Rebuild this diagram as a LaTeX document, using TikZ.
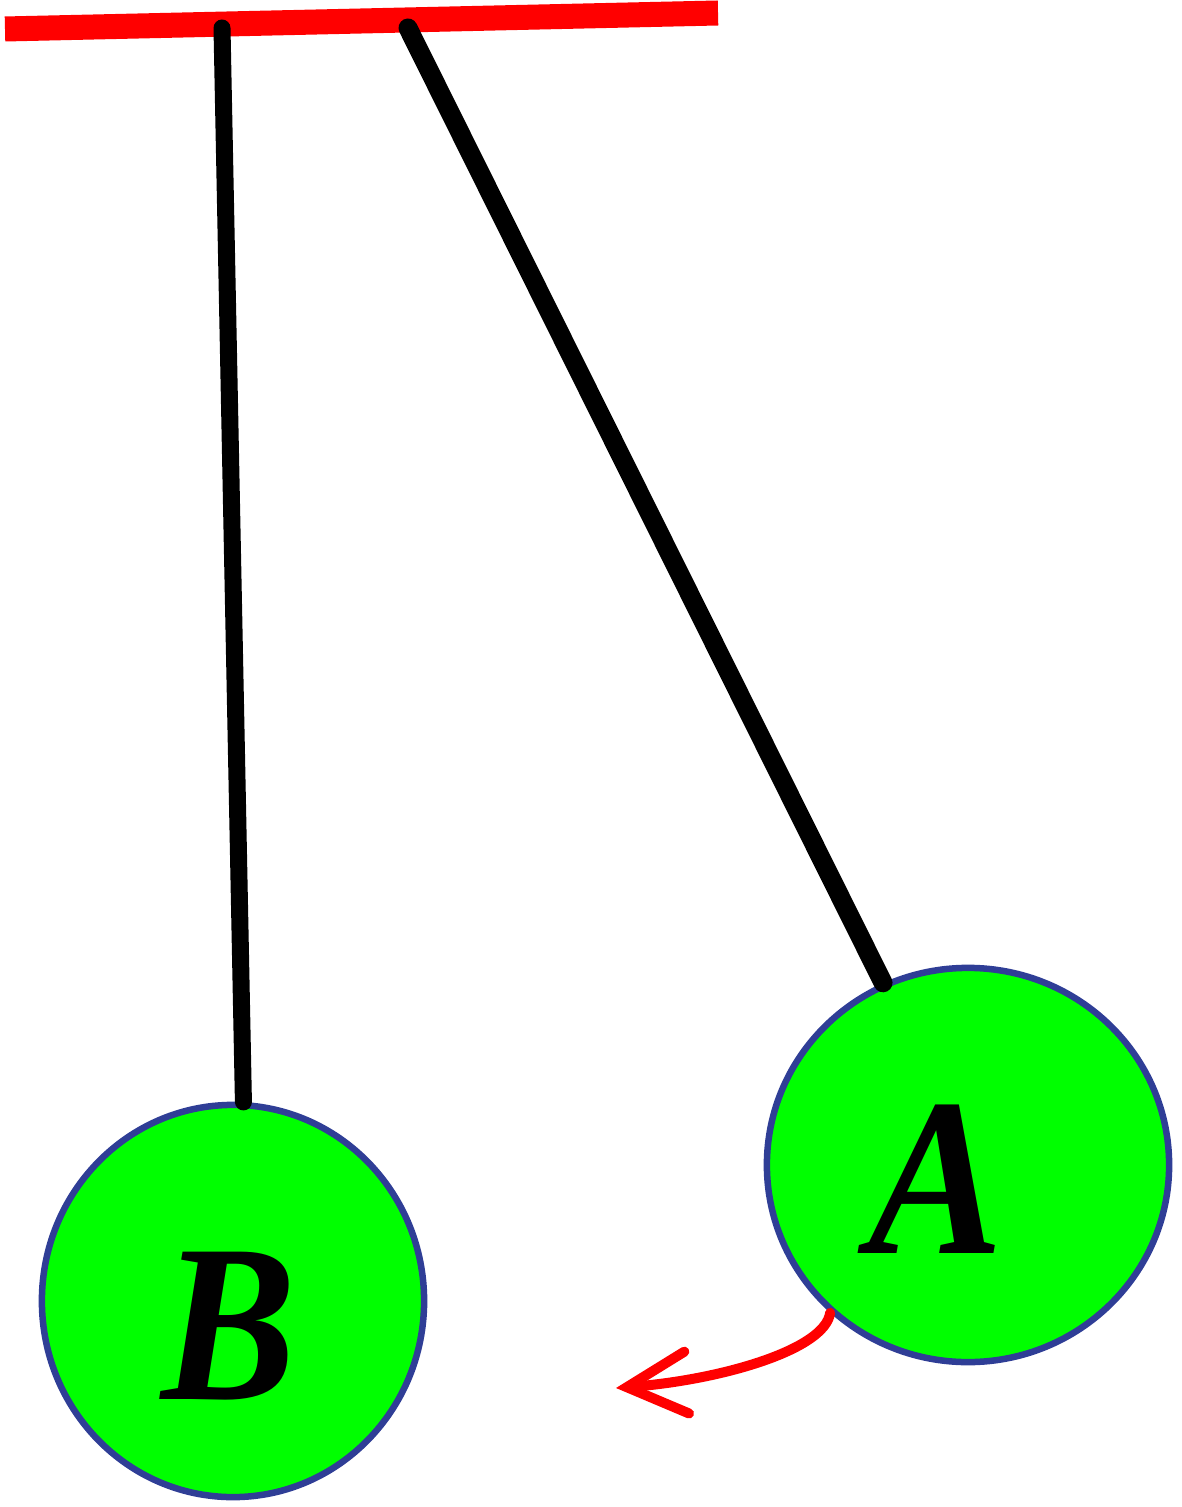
\documentclass[tikz,border=0pt]{standalone}
\usepackage{fontspec}
\setmainfont{Liberation Serif}
\usetikzlibrary{arrows.meta,shapes.geometric}
\definecolor{ballgreen}{HTML}{00FF00}
\definecolor{balledge}{HTML}{2F3E96}
\definecolor{barred}{HTML}{FF0000}
\tikzset{
  ball/.style={ellipse, draw=balledge, line width=0.065cm, fill=ballgreen, inner sep=0pt},
  string/.style={line width=#1, line cap=round, draw=black},
  balllabel/.style={font=\fontsize{64}{70}\selectfont\bfseries\itshape, inner sep=0pt},
  swing/.style={draw=barred, line width=0.1cm, line cap=round, line join=round,
    -{Straight Barb[length=0.6cm, width=0.62cm, line cap=round]}}
}
\begin{document}
\begin{tikzpicture}[x=0.01cm, y=-0.01cm]
\useasboundingbox (0,0) rectangle (1181,1507);
% support bar
\coordinate (barL) at (5,29);
\coordinate (barR) at (718,13);
\draw[barred, line width=0.25cm] (barL) -- (barR);
% suspension points
\coordinate (pB) at (222,28);
\coordinate (pA) at (408,28);
% balls
\node[ball, minimum width=3.82cm, minimum height=3.92cm] (B) at (233,1301) {};
\node[ball, minimum width=4.02cm, minimum height=3.94cm] (A) at (968,1165) {};
% strings
\draw[string=0.17cm] (pB) -- (B.87);
\draw[string=0.19cm] (pA) -- (A.115);
% labels
\node[balllabel, xscale=0.9, transform shape] (labB) at (229,1326) {B};
\node[balllabel, xscale=0.9, transform shape] (labA) at (936,1179) {A};
% arrow
\coordinate (tip) at (616,1388);
\draw[swing] (A.227) .. controls (825,1350) and (720,1380) .. (tip);
\end{tikzpicture}
\end{document}
